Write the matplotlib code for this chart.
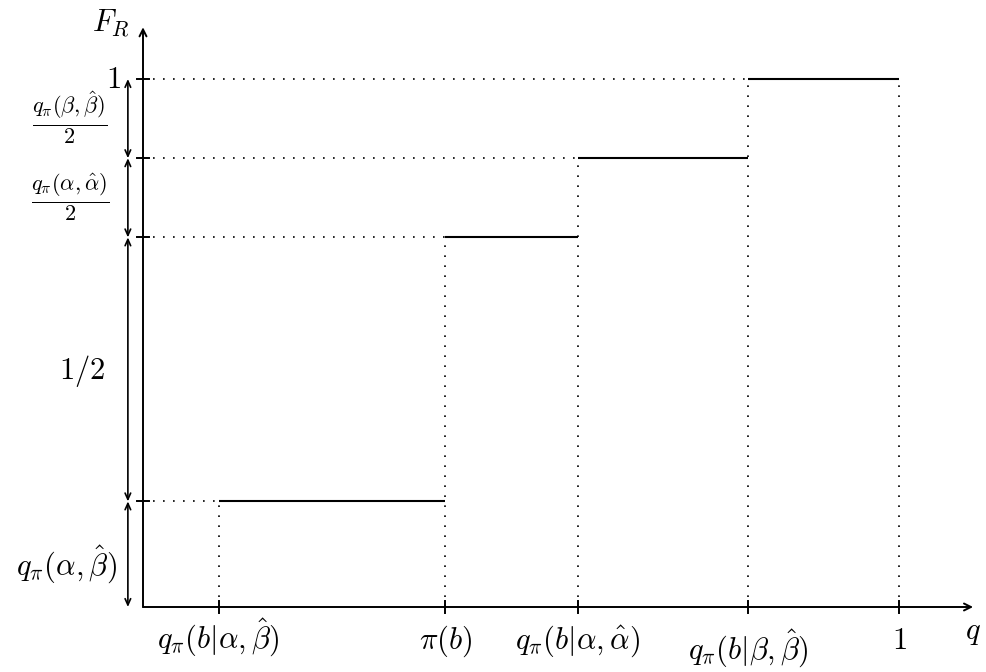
import matplotlib
matplotlib.use("Agg")
import matplotlib.pyplot as plt

plt.rcParams['mathtext.fontset'] = 'cm'
plt.rcParams['font.family'] = ['DejaVu Serif']

# break points on q axis and levels of F_R
x_breaks = [0.1, 0.4, 0.575, 0.8, 1.0]
y_levels = [0.2, 0.7, 0.85, 1.0]
x_labels = [r'$q_\pi(b|\alpha,\hat\beta)$', r'$\pi(b)$', r'$q_\pi(b|\alpha,\hat\alpha)$',
            r'$q_\pi(b|\beta,\hat\beta)$', r'$1$']
gap_labels = [r'$q_\pi(\alpha,\hat\beta)$', r'$1/2$',
              r'$\frac{q_\pi(\alpha,\hat\alpha)}{2}$', r'$\frac{q_\pi(\beta,\hat\beta)}{2}$']

W, H = 987, 672
fig = plt.figure(figsize=(W/100, H/100), dpi=100)
ax = fig.add_axes([0, 0, 1, 1])
ax.set_xlim(-143/756, (W-143)/756)
ax.set_ylim(-(H-607)/528, 607/528)
ax.axis('off')

lw_axis = 1.4
# axes with arrows
ax.annotate('', xy=(1.098, 0), xytext=(0, 0),
            arrowprops=dict(arrowstyle='->,head_length=0.5,head_width=0.25', lw=lw_axis, color='black', shrinkA=0, shrinkB=0))
ax.annotate('', xy=(0, 1.098), xytext=(0, 0),
            arrowprops=dict(arrowstyle='->,head_length=0.5,head_width=0.25', lw=lw_axis, color='black', shrinkA=0, shrinkB=0))
ax.text(1.098, -0.046, r'$q$', fontsize=22, ha='center', va='center')
ax.text(-0.043, 1.105, r'$F_R$', fontsize=22, ha='center', va='center')

dot = dict(color='black', lw=1.2, linestyle=(0, (1, 5)))
# step segments
starts = x_breaks[:-1]
ends = x_breaks[1:]
for xs, xe, yl in zip(starts, ends, y_levels):
    ax.plot([xs, xe], [yl, yl], color='black', lw=1.5, solid_capstyle='butt')
    ax.plot([0, xs], [yl, yl], **dot)
# vertical dotted lines
tops = y_levels + [y_levels[-1]]
for xb, yt in zip(x_breaks, tops):
    ax.plot([xb, xb], [0, yt], **dot)

# ticks
tx = 6/756
ty = 6/528
for yl in y_levels:
    ax.plot([-tx, tx], [yl, yl], color='black', lw=1.4)
for xb in x_breaks:
    ax.plot([xb, xb], [-ty, ty], color='black', lw=1.4)

# x labels (baseline positions)
x_label_y = [-0.0795, -0.0795, -0.0795, -0.100, -0.0795]
for xb, lab, yy in zip(x_breaks, x_labels, x_label_y):
    ax.text(xb, yy, lab, fontsize=22, ha='center', va='baseline')

# left double arrows
ax_x = -0.02
bounds = [0] + y_levels
for lo, hi, lab in zip(bounds[:-1], bounds[1:], gap_labels):
    ax.annotate('', xy=(ax_x, hi), xytext=(ax_x, lo),
                arrowprops=dict(arrowstyle='<->,head_length=0.45,head_width=0.2', lw=1.2, color='black', shrinkA=0, shrinkB=0))
label_x = [-0.1005, -0.08, -0.0966, -0.0966]
label_y = [0.08, 0.447, 0.775, 0.927]
label_fs = [22, 22, 23, 23]
for lab, lx, ly, fs in zip(gap_labels, label_x, label_y, label_fs):
    ax.text(lx, ly, lab, fontsize=fs, ha='center', va='center')
ax.text(-0.029, 1.0, r'$1$', fontsize=22, ha='right', va='center')

fig.savefig('out.png', dpi=100)
